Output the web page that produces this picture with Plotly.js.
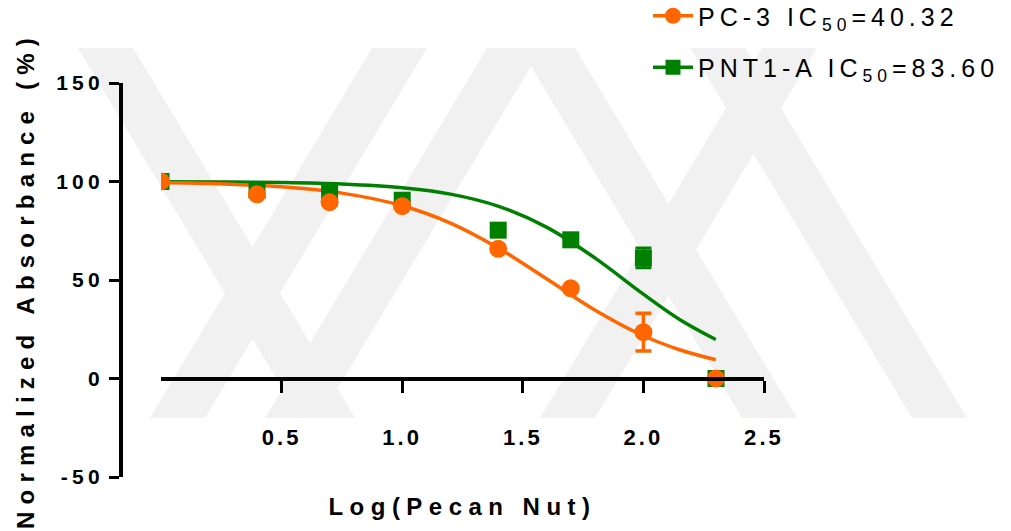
<!DOCTYPE html>
<html><head><meta charset="utf-8">
<script src="https://cdn.plot.ly/plotly-3.0.1.min.js"></script>
<style>
body{margin:0;background:#fff}
text{letter-spacing:0.2em}
#chart .xtitle{letter-spacing:0.27em}
#chart .ytitle{letter-spacing:0.3em}
#chart .xtick text{letter-spacing:0.14em}
</style></head><body><div id="chart" style="width:1011px;height:531px"></div>
<script>
// ---- data ----
const logConc = [0, 0.398, 0.699, 1.0, 1.398, 1.699, 2.0, 2.301];
const pc3Values = [100, 93.5, 89.5, 87.5, 65.8, 45.8, 23.5, 0];
const pc3Errors = [null, null, null, null, null, null, 9.6, null];
const pnt1aValues = [100, 95.6, 94.5, 90.5, 75.3, 70.4, 61.2, 0];
const pnt1aErrors = [null, null, null, null, null, null, 5.0, null];
const fitX = [0, 0.25, 0.5, 0.75, 1.0, 1.2, 1.4, 1.6, 1.8, 2.0, 2.15, 2.3];
const pc3Fit = [99.5, 98.8, 97.3, 94.1, 87.7, 78.9, 66.1, 50.5, 34.7, 21.7, 14.6, 9.5];
const pnt1aFit = [99.9, 99.8, 99.5, 98.7, 96.8, 93.6, 87.4, 76.7, 61.1, 42.8, 30.0, 19.8];
const xTicks = [0.5, 1.0, 1.5, 2.0, 2.5];
const xTickText = ['0.5', '1.0', '1.5', '2.0', '2.5'];
const yTicks = [-50, 0, 50, 100, 150];
const yTickText = ['-50', '0', '50', '100', '150'];
const seriesNames = ['PC-3 IC<sub>50</sub>=40.32', 'PNT1-A IC<sub>50</sub>=83.60'];
const xTitle = 'Log(Pecan Nut)';
const yTitle = 'Normalized Absorbance (%)';

// ---- style ----
const ORANGE = '#FF6600', GREEN = '#008000';
const FAM = '"Liberation Sans", Arial, Helvetica, sans-serif';
const L = 121, R = 247, T = 83, B = 54, W = 1011, H = 531;
const pw = W - L - R, ph = H - T - B;

// faint background watermark (decoration), pixel polygons
const wmBands = [
  [[78,48],[133,48],[355,418],[300,418]],
  [[372,48],[427,48],[205,418],[150,418]],
  [[487,48],[542,48],[320,418],[265,418]],
  [[520,48],[575,48],[797,418],[742,418]],
  [[762,48],[817,48],[595,418],[540,418]],
  [[690,48],[745,48],[967,418],[912,418]]
];
function toPath(poly){
  return poly.map((p,i)=>(i?'L':'M')+((p[0]-L)/pw).toFixed(4)+','+((H-B-p[1])/ph).toFixed(4)).join(' ')+' Z';
}
const shapes = wmBands.map(b=>({type:'path', xref:'paper', yref:'paper', path:toPath(b),
  fillcolor:'#f1f1f1', line:{width:0}, layer:'below'}));

const traces = [
  {x: fitX, y: pnt1aFit, mode:'lines', line:{color:GREEN, width:3.5, shape:'spline'}, showlegend:false, hoverinfo:'skip'},
  {x: fitX, y: pc3Fit, mode:'lines', line:{color:ORANGE, width:3.5, shape:'spline'}, showlegend:false, hoverinfo:'skip'},
  {x: logConc, y: pnt1aValues, mode:'markers', marker:{symbol:'square', size:17, color:GREEN},
   error_y:{type:'data', array:pnt1aErrors, visible:true, color:GREEN, thickness:3, width:8}, showlegend:false},
  {x: logConc, y: pc3Values, mode:'markers', marker:{symbol:'circle', size:18, color:ORANGE},
   error_y:{type:'data', array:pc3Errors, visible:true, color:ORANGE, thickness:3.5, width:8}, showlegend:false},
  {x:[null], y:[null], mode:'lines+markers', name:seriesNames[0], legendgroup:'a',
   line:{color:ORANGE, width:3.5}, marker:{symbol:'circle', size:16, color:ORANGE}},
  {x:[null], y:[null], mode:'lines+markers', name:seriesNames[1], legendgroup:'b',
   line:{color:GREEN, width:3.5}, marker:{symbol:'square', size:15, color:GREEN}}
];

const layout = {
  width:W, height:H, margin:{l:L, r:R, t:T, b:B, autoexpand:false},
  paper_bgcolor:'#ffffff', plot_bgcolor:'rgba(0,0,0,0)',
  font:{family:FAM, color:'#000'},
  shapes: shapes,
  showlegend:true,
  xaxis:{range:[0,2.5], domain:[(161-L)/pw, 1], anchor:'free', position:0.25, automargin:false,
    showline:true, linewidth:4, linecolor:'#000', ticks:'outside', ticklen:12, tickwidth:3, tickcolor:'#000',
    tickmode:'array', tickvals:xTicks, ticktext:xTickText,
    tickfont:{family:FAM, size:22, color:'#000', weight:'bold'},
    ticklabelstandoff:26, showgrid:false, zeroline:false,
    title:{text:xTitle, font:{family:FAM, size:24, color:'#000', weight:'bold'}, standoff:48}},
  yaxis:{range:[-50,150], anchor:'free', position:0, automargin:false,
    showline:true, linewidth:4, linecolor:'#000', ticks:'outside', ticklen:10, tickwidth:3, tickcolor:'#000',
    tickmode:'array', tickvals:yTicks, ticktext:yTickText, tickfont:{family:FAM, size:21, color:'#000', weight:'bold'},
    ticklabelstandoff:1, showgrid:false, zeroline:false,
    title:{text:yTitle, font:{family:FAM, size:24, color:'#000', weight:'bold'}, standoff:14}},
  legend:{x:(648-L)/pw, y:1+(T+7)/ph, xanchor:'left', yanchor:'top', traceorder:'grouped', tracegroupgap:16,
    bgcolor:'rgba(0,0,0,0)', font:{family:FAM, size:25, color:'#000'}, itemwidth:40}
};

Plotly.newPlot('chart', traces, layout, {displayModeBar:false, staticPlot:true}).then(gd=>{
  gd.querySelectorAll('.legend [clip-path]').forEach(e=>e.removeAttribute('clip-path'));
});
</script></body></html>
